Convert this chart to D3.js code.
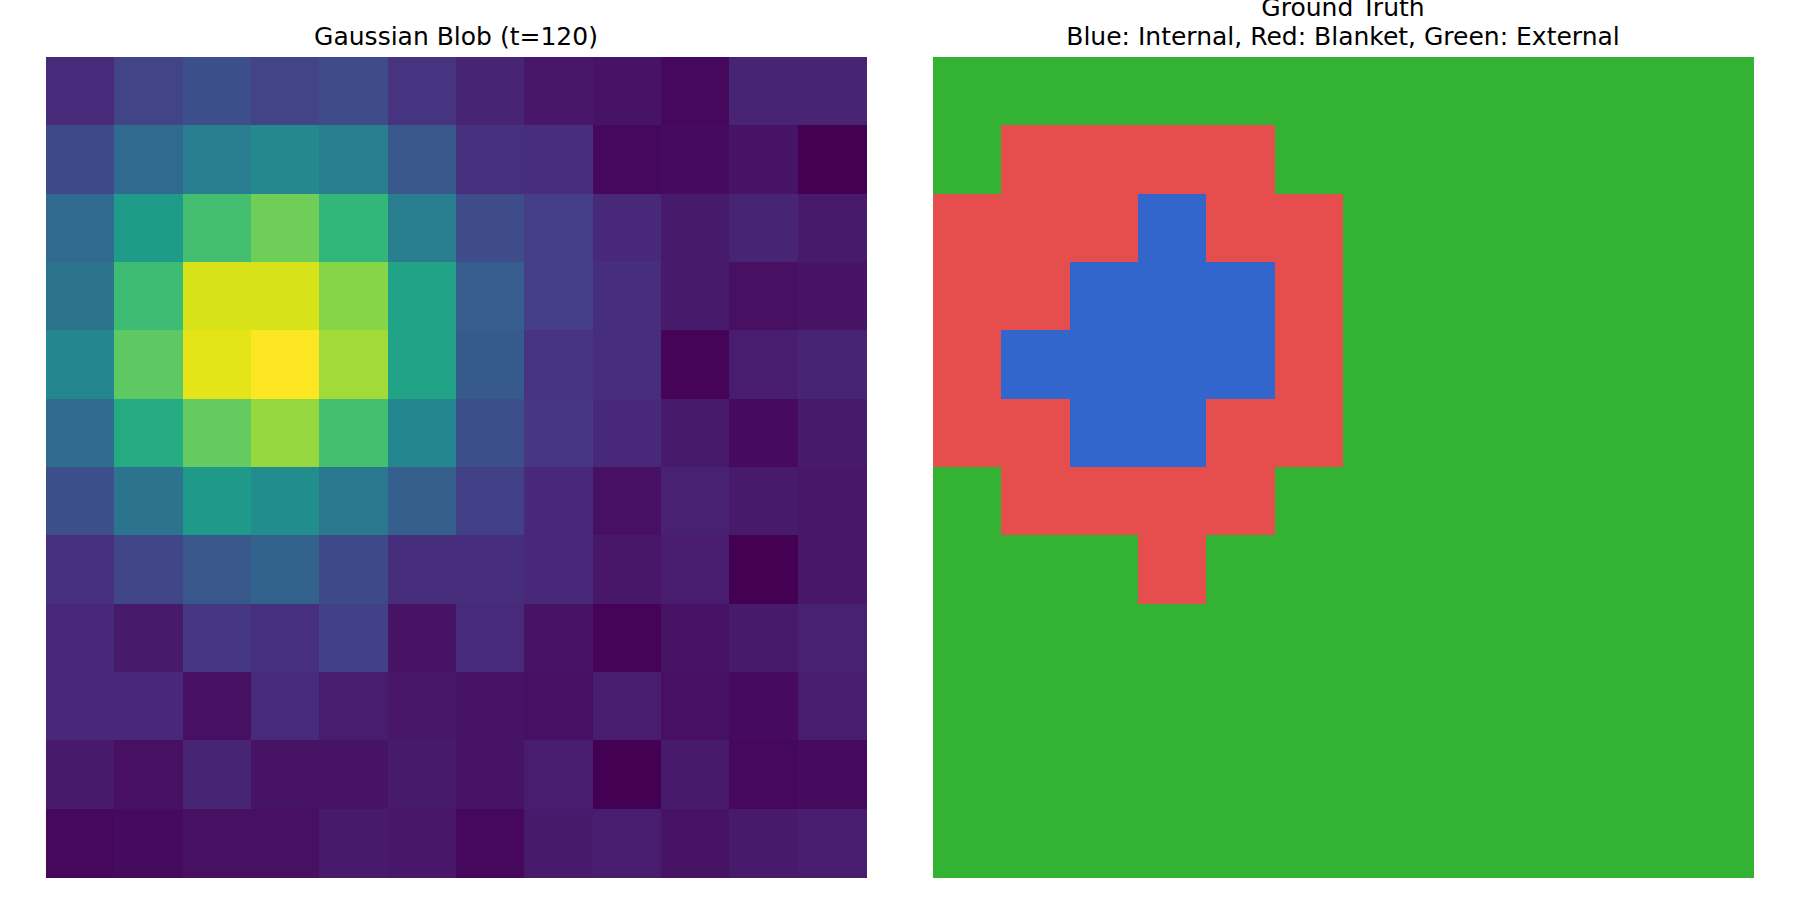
<!DOCTYPE html>
<html>
<head>
<meta charset="utf-8">
<script src="https://cdn.jsdelivr.net/npm/d3@7"></script>
<style>
  html, body { margin: 0; padding: 0; background: #ffffff; }
  svg { display: block; }
  text { font-family: "DejaVu Sans", sans-serif; fill: #000; }
</style>
</head>
<body>
<svg id="chart" width="1800" height="900"></svg>
<script>
// ---- data ----
const leftTitle = "Gaussian Blob (t=120)";
const rightTitleLines = ["Ground Truth", "Blue: Internal, Red: Blanket, Green: External"];

// 12x12 intensity field (normalized)
const blobValues = [
  [0.12, 0.20, 0.24, 0.20, 0.23, 0.15, 0.10, 0.06, 0.05, 0.02, 0.10, 0.10],
  [0.22, 0.34, 0.42, 0.47, 0.42, 0.27, 0.14, 0.13, 0.02, 0.03, 0.05, 0.00],
  [0.34, 0.55, 0.70, 0.78, 0.66, 0.42, 0.23, 0.18, 0.11, 0.07, 0.10, 0.07],
  [0.38, 0.69, 0.94, 0.94, 0.82, 0.58, 0.29, 0.18, 0.13, 0.07, 0.04, 0.05],
  [0.46, 0.75, 0.96, 1.00, 0.86, 0.58, 0.28, 0.15, 0.13, 0.01, 0.08, 0.10],
  [0.35, 0.61, 0.76, 0.84, 0.70, 0.46, 0.24, 0.16, 0.11, 0.07, 0.03, 0.07],
  [0.24, 0.38, 0.54, 0.49, 0.40, 0.30, 0.19, 0.11, 0.04, 0.09, 0.07, 0.06],
  [0.14, 0.21, 0.27, 0.31, 0.22, 0.13, 0.13, 0.11, 0.06, 0.08, 0.00, 0.06],
  [0.11, 0.07, 0.16, 0.14, 0.19, 0.05, 0.12, 0.05, 0.01, 0.05, 0.07, 0.09],
  [0.11, 0.11, 0.04, 0.12, 0.08, 0.06, 0.05, 0.04, 0.08, 0.04, 0.03, 0.08],
  [0.07, 0.04, 0.10, 0.05, 0.05, 0.07, 0.05, 0.08, 0.00, 0.07, 0.02, 0.03],
  [0.02, 0.03, 0.04, 0.04, 0.07, 0.06, 0.02, 0.07, 0.08, 0.05, 0.07, 0.08]
];

// ground-truth labels: 0 = Internal, 1 = Blanket, 2 = External
const labelNames = ["Internal", "Blanket", "External"];
const labelColors = ["#3366cc", "#e64d4d", "#33b233"];
const truthLabels = [
  [2, 2, 2, 2, 2, 2, 2, 2, 2, 2, 2, 2],
  [2, 1, 1, 1, 1, 2, 2, 2, 2, 2, 2, 2],
  [1, 1, 1, 0, 1, 1, 2, 2, 2, 2, 2, 2],
  [1, 1, 0, 0, 0, 1, 2, 2, 2, 2, 2, 2],
  [1, 0, 0, 0, 0, 1, 2, 2, 2, 2, 2, 2],
  [1, 1, 0, 0, 1, 1, 2, 2, 2, 2, 2, 2],
  [2, 1, 1, 1, 1, 2, 2, 2, 2, 2, 2, 2],
  [2, 2, 2, 1, 2, 2, 2, 2, 2, 2, 2, 2],
  [2, 2, 2, 2, 2, 2, 2, 2, 2, 2, 2, 2],
  [2, 2, 2, 2, 2, 2, 2, 2, 2, 2, 2, 2],
  [2, 2, 2, 2, 2, 2, 2, 2, 2, 2, 2, 2],
  [2, 2, 2, 2, 2, 2, 2, 2, 2, 2, 2, 2]
];

// ---- layout ----
const svg = d3.select("#chart");
const panelTop = 57, panelSize = 820;
const leftX = 46, rightX = 933;
const n = 12;
const idx = d3.range(n);

function makePanel(x0) {
  return {
    x: d3.scaleBand().domain(idx).range([x0, x0 + panelSize]).paddingInner(0),
    y: d3.scaleBand().domain(idx).range([panelTop, panelTop + panelSize]).paddingInner(0)
  };
}

// left: viridis heatmap
const flat = blobValues.flat();
const color = d3.scaleSequential(d3.interpolateViridis).domain(d3.extent(flat));
const L = makePanel(leftX);
const cellsL = [];
blobValues.forEach((row, r) => row.forEach((v, c) => cellsL.push({ r, c, v })));
svg.append("g").selectAll("rect").data(cellsL).join("rect")
  .attr("x", d => L.x(d.c))
  .attr("y", d => L.y(d.r))
  .attr("width", L.x.bandwidth() + 0.5)
  .attr("height", L.y.bandwidth() + 0.5)
  .attr("fill", d => color(d.v))
  .attr("shape-rendering", "crispEdges");

// right: categorical ground truth
const R = makePanel(rightX);
const catColor = d3.scaleOrdinal().domain([0, 1, 2]).range(labelColors);
const cellsR = [];
truthLabels.forEach((row, r) => row.forEach((v, c) => cellsR.push({ r, c, v })));
svg.append("g").selectAll("rect").data(cellsR).join("rect")
  .attr("x", d => R.x(d.c))
  .attr("y", d => R.y(d.r))
  .attr("width", R.x.bandwidth() + 0.5)
  .attr("height", R.y.bandwidth() + 0.5)
  .attr("fill", d => catColor(d.v))
  .attr("shape-rendering", "crispEdges");

// titles
const fs = 25;
svg.append("text")
  .attr("x", leftX + panelSize / 2)
  .attr("y", 45)
  .attr("text-anchor", "middle")
  .attr("font-size", fs)
  .text(leftTitle);

const rt = svg.append("text")
  .attr("x", rightX + panelSize / 2)
  .attr("text-anchor", "middle")
  .attr("font-size", fs);
rightTitleLines.forEach((line, i) => {
  rt.append("tspan")
    .attr("x", rightX + panelSize / 2)
    .attr("y", 45 - (rightTitleLines.length - 1 - i) * 29)
    .text(line);
});
</script>
</body>
</html>
